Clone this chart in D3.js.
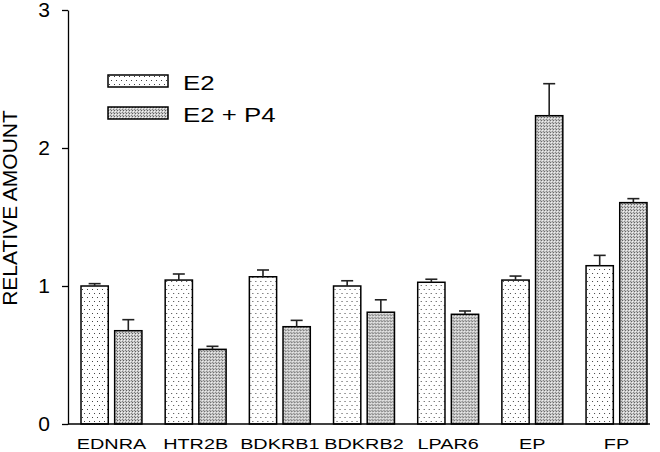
<!DOCTYPE html>
<html>
<head>
<meta charset="utf-8">
<script src="https://cdn.jsdelivr.net/npm/d3@7"></script>
<style>
  body { margin: 0; background: #fff; }
  text { font-family: Arial, "Liberation Sans", sans-serif; fill: #000; }
</style>
</head>
<body>
<svg></svg>
<script>
/* global d3 */
const genes = ['EDNRA', 'HTR2B', 'BDKRB1', 'BDKRB2', 'LPAR6', 'EP', 'FP']
const series = ['E2', 'E2 + P4']
const e2Mean = [1.0, 1.043, 1.067, 1.0, 1.027, 1.043, 1.147]
const e2Err = [0.017, 0.044, 0.049, 0.038, 0.022, 0.029, 0.075]
const p4Mean = [0.676, 0.541, 0.705, 0.81, 0.795, 2.234, 1.604]
const p4Err = [0.08, 0.022, 0.046, 0.09, 0.024, 0.232, 0.029]
const yTicks = [0, 1, 2, 3]

const width = 660
const height = 452
const margin = { top: 10, bottom: 28, left: 68, right: 10 }

const svg = d3.select('svg').attr('width', width).attr('height', height)

/** Fill patterns */
const defs = svg.append('defs')
const pE2 = defs.append('pattern')
  .attr('id', 'pat-e2').attr('patternUnits', 'userSpaceOnUse')
  .attr('width', 5).attr('height', 8)
pE2.append('rect').attr('width', 5).attr('height', 8).attr('fill', '#fff')
pE2.append('rect').attr('x', 1).attr('y', 1).attr('width', 1).attr('height', 1).attr('fill', '#444')
pE2.append('rect').attr('x', 3).attr('y', 5).attr('width', 1).attr('height', 1).attr('fill', '#444')

const pP4 = defs.append('pattern')
  .attr('id', 'pat-p4').attr('patternUnits', 'userSpaceOnUse')
  .attr('width', 3).attr('height', 3)
pP4.append('rect').attr('width', 3).attr('height', 3).attr('fill', '#cacaca')
pP4.append('rect').attr('x', 0).attr('y', 0).attr('width', 1).attr('height', 1).attr('fill', '#5e5e5e')
pP4.append('rect').attr('x', 1).attr('y', 1).attr('width', 1).attr('height', 1).attr('fill', '#f4f4f4')
pP4.append('rect').attr('x', 2).attr('y', 2).attr('width', 1).attr('height', 1).attr('fill', '#808080')

const fills = { E2: 'url(#pat-e2)', 'E2 + P4': 'url(#pat-p4)' }

/** Data rows */
const data = genes.map((g, i) => ({
  gene: g,
  values: [
    { key: 'E2', mean: e2Mean[i], err: e2Err[i] },
    { key: 'E2 + P4', mean: p4Mean[i], err: p4Err[i] }
  ]
}))

/** Scales */
const xScale = d3.scaleBand()
  .domain(genes)
  .range([81, 647])
  .paddingInner(0.276)
  .paddingOuter(0)

const xInner = d3.scaleBand()
  .domain(series)
  .range([0, xScale.bandwidth()])
  .paddingInner(0.19)

const yScale = d3.scaleLinear()
  .domain([0, 3])
  .range([height - margin.bottom, margin.top])

/** Bars */
const groups = svg.selectAll('g.group')
  .data(data)
  .enter()
  .append('g')
  .attr('class', 'group')
  .attr('transform', d => `translate(${xScale(d.gene)},0)`)

groups.selectAll('rect')
  .data(d => d.values)
  .enter()
  .append('rect')
  .attr('x', d => xInner(d.key))
  .attr('y', d => yScale(d.mean))
  .attr('width', xInner.bandwidth())
  .attr('height', d => yScale(0) - yScale(d.mean))
  .attr('fill', d => fills[d.key])
  .attr('stroke', '#000')
  .attr('stroke-width', 1.5)

/** Error bars (upper only) */
const capHalf = 6
groups.selectAll('line.err')
  .data(d => d.values)
  .enter()
  .append('line')
  .attr('class', 'err')
  .attr('x1', d => xInner(d.key) + xInner.bandwidth() / 2)
  .attr('x2', d => xInner(d.key) + xInner.bandwidth() / 2)
  .attr('y1', d => yScale(d.mean))
  .attr('y2', d => yScale(d.mean + d.err))
  .attr('stroke', '#222')
  .attr('stroke-width', 1.6)

groups.selectAll('line.cap')
  .data(d => d.values)
  .enter()
  .append('line')
  .attr('class', 'cap')
  .attr('x1', d => xInner(d.key) + xInner.bandwidth() / 2 - capHalf)
  .attr('x2', d => xInner(d.key) + xInner.bandwidth() / 2 + capHalf)
  .attr('y1', d => yScale(d.mean + d.err))
  .attr('y2', d => yScale(d.mean + d.err))
  .attr('stroke', '#222')
  .attr('stroke-width', 1.6)

/** Axes */
const yAxis = d3.axisLeft(yScale)
  .tickValues(yTicks)
  .tickFormat(d3.format('d'))
  .tickSize(6)
  .tickSizeOuter(0)
  .tickPadding(12)

const gy = svg.append('g')
  .attr('transform', `translate(${margin.left},0)`)
  .call(yAxis)
gy.selectAll('text').style('font-size', '21px').attr('fill', '#000')
gy.selectAll('line, path').attr('stroke', '#000').attr('stroke-width', 1.3)

const xAxis = d3.axisBottom(xScale)
  .tickSize(0)
  .tickPadding(14)

const gx = svg.append('g')
  .attr('transform', `translate(0,${height - margin.bottom})`)
  .call(xAxis)
gx.select('.domain').remove()
gx.selectAll('text')
  .style('font-size', '15.5px')
  .attr('fill', '#000')
  .attr('transform', 'scale(1.28,1)')

svg.append('line')
  .attr('x1', margin.left)
  .attr('x2', width - margin.right)
  .attr('y1', yScale(0))
  .attr('y2', yScale(0))
  .attr('stroke', '#000')
  .attr('stroke-width', 1.3)

/** Y title */
svg.append('text')
  .attr('transform', 'translate(17,208) rotate(-90)')
  .attr('text-anchor', 'middle')
  .style('font-size', '21px')
  .text('RELATIVE AMOUNT')

/** Legend */
const legend = svg.append('g')
  .selectAll('g')
  .data(series)
  .enter()
  .append('g')
  .attr('transform', (d, i) => `translate(108,${75 + i * 32})`)

legend.append('rect')
  .attr('width', 60)
  .attr('height', 12)
  .attr('fill', d => fills[d])
  .attr('stroke', '#000')
  .attr('stroke-width', 1.5)

legend.append('text')
  .attr('transform', 'translate(75,14.5) scale(1.26,1)')
  .style('font-size', '20.5px')
  .text(d => d)
</script>
</body>
</html>
